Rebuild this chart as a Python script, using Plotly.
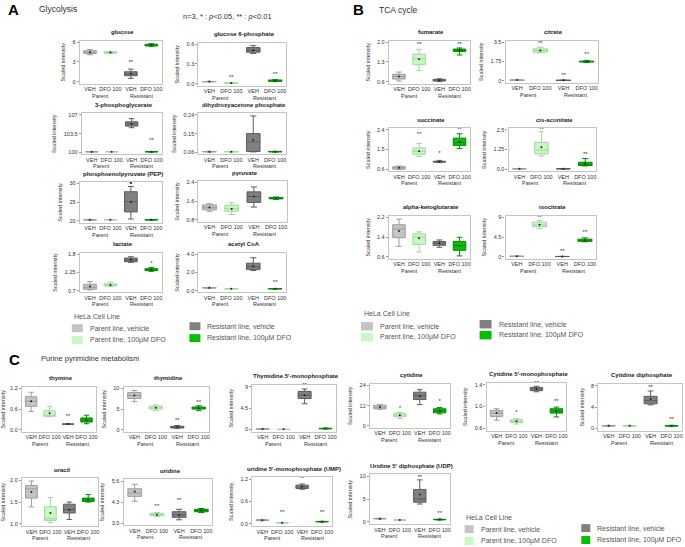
import plotly.graph_objects as go

W, H = 685, 547
FONT = "Liberation Sans, Arial, sans-serif"

CONDITIONS = ["VEH", "DFO 100", "VEH", "DFO 100"]
CELL_LINES = ["Parent", "Resistant"]
FILL = ["#c4c4c4", "#c9f8c6", "#808080", "#00c000"]
EDGE = ["#9c9c9c", "#a3d69f", "#5c5c5c", "#008a00"]
LEGEND_LABELS = ["Parent line, vehicle", "Parent line, 100\u00b5M DFO",
                 "Resistant line, vehicle", "Resistant line, 100\u00b5M DFO"]

# one row per group: lower whisker, q1, median, q3, upper whisker, mean
# --- A: glycolysis
glucose = [(4.1, 4.3, 4.5, 4.7, 4.9, 4.5), (4.25, 4.35, 4.45, 4.55, 4.6, 4.45),
           (0.5, 0.9, 1.15, 1.5, 1.9, 1.2), (5.4, 5.45, 5.6, 5.7, 5.8, 5.6)]
g6p = [(0.025, 0.028, 0.03, 0.032, 0.035, 0.03), (0.003, 0.005, 0.007, 0.009, 0.012, 0.007),
       (0.46, 0.48, 0.51, 0.55, 0.58, 0.51), (0.03, 0.035, 0.045, 0.055, 0.06, 0.045)]
pga3 = [(100.05, 100.08, 100.1, 100.12, 100.15, 100.1), (100.05, 100.08, 100.1, 100.12, 100.15, 100.1),
        (104.6, 104.9, 105.3, 105.7, 106.3, 105.3), (100.05, 100.08, 100.1, 100.12, 100.15, 100.1)]
dhap = [(0.061, 0.062, 0.063, 0.064, 0.065, 0.063), (0.061, 0.062, 0.063, 0.064, 0.065, 0.063),
        (0.062, 0.064, 0.11, 0.15, 0.235, 0.12), (0.061, 0.062, 0.063, 0.064, 0.065, 0.063)]
pep = [(20.2, 20.25, 20.3, 20.35, 20.4, 20.3), (20.2, 20.25, 20.3, 20.35, 20.4, 20.3),
       (20.5, 22.4, 25.2, 27.8, 29.2, 25.0), (20.2, 20.25, 20.3, 20.35, 20.4, 20.3)]
pyruvate = [(1.17, 1.23, 1.32, 1.44, 1.49, 1.33), (1.03, 1.17, 1.28, 1.43, 1.53, 1.27),
            (1.35, 1.55, 1.8, 2.0, 2.21, 1.8), (1.68, 1.7, 1.73, 1.76, 1.78, 1.73)]
lactate = [(0.72, 0.74, 0.8, 0.89, 0.97, 0.82), (0.82, 0.84, 0.87, 0.9, 0.95, 0.87),
           (1.55, 1.57, 1.62, 1.68, 1.72, 1.63), (1.28, 1.3, 1.33, 1.36, 1.4, 1.33)]
acetyl_coa = [(0.25, 0.28, 0.3, 0.32, 0.35, 0.3), (0.17, 0.19, 0.2, 0.21, 0.23, 0.2),
              (2.2, 2.3, 2.6, 3.0, 3.6, 2.7), (0.17, 0.19, 0.2, 0.21, 0.23, 0.2)]
# --- B: TCA cycle
fumarate = [(0.62, 0.69, 0.78, 0.86, 0.94, 0.78), (0.99, 1.2, 1.42, 1.58, 1.75, 1.4),
            (0.6, 0.62, 0.65, 0.68, 0.7, 0.65), (1.55, 1.67, 1.72, 1.76, 1.8, 1.72)]
citrate = [(0.02, 0.04, 0.05, 0.06, 0.08, 0.05), (2.55, 2.6, 2.75, 2.9, 3.05, 2.75),
           (0.01, 0.02, 0.03, 0.04, 0.05, 0.03), (1.65, 1.7, 1.74, 1.78, 1.85, 1.75)]
succinate = [(0.58, 0.6, 0.66, 0.71, 0.74, 0.66), (1.18, 1.28, 1.42, 1.57, 1.78, 1.42),
             (0.9, 0.92, 0.94, 0.96, 1.0, 0.94), (1.54, 1.68, 1.82, 2.02, 2.22, 1.85)]
cis_aconitate = [(0.0, 0.01, 0.02, 0.03, 0.04, 0.02), (0.84, 0.97, 1.21, 1.71, 2.38, 1.4),
                 (0.0, 0.01, 0.02, 0.03, 0.04, 0.02), (0.2, 0.23, 0.3, 0.44, 0.67, 0.35)]
akg = [(1.02, 1.37, 1.73, 1.9, 2.13, 1.65), (0.79, 1.1, 1.4, 1.53, 1.61, 1.35),
       (0.98, 1.06, 1.15, 1.22, 1.28, 1.15), (0.63, 0.86, 1.05, 1.22, 1.39, 1.03)]
isocitrate = [(0.02, 0.05, 0.08, 0.1, 0.12, 0.08), (6.4, 6.9, 7.3, 7.9, 8.3, 7.3),
              (0.01, 0.02, 0.03, 0.04, 0.05, 0.03), (3.4, 3.5, 3.75, 4.0, 4.3, 3.75)]
# --- C: purine pyrimidine metabolism
thymine = [(0.53, 0.68, 0.83, 0.96, 1.09, 0.83), (0.38, 0.39, 0.42, 0.55, 0.68, 0.48),
           (0.15, 0.155, 0.16, 0.165, 0.17, 0.16), (0.17, 0.22, 0.28, 0.34, 0.42, 0.28)]
thymidine = [(6.8, 7.6, 8.3, 9.0, 9.5, 8.3), (4.6, 5.0, 5.3, 5.7, 6.0, 5.3),
             (0.3, 0.4, 0.6, 0.8, 1.0, 0.6), (4.6, 5.0, 5.2, 5.5, 5.8, 5.2)]
tmp = [(0.05, 0.08, 0.1, 0.12, 0.15, 0.1), (0.01, 0.02, 0.03, 0.04, 0.05, 0.03),
       (5.4, 6.5, 7.2, 8.0, 8.5, 7.2), (0.1, 0.15, 0.2, 0.25, 0.3, 0.2)]
cytidine = [(9.7, 10.1, 11.0, 12.2, 12.7, 11.1), (4.3, 5.3, 6.2, 7.4, 7.8, 6.2),
            (12.6, 15.6, 18.0, 20.0, 21.5, 17.5), (7.0, 7.7, 8.8, 10.1, 10.8, 8.9)]
cmp_ = [(0.75, 0.82, 0.88, 0.93, 0.96, 0.88), (0.68, 0.71, 0.73, 0.76, 0.78, 0.73),
        (1.27, 1.29, 1.32, 1.35, 1.37, 1.32), (0.81, 0.88, 0.92, 0.96, 0.99, 0.92)]
cdp = [(0.4, 0.45, 0.5, 0.55, 0.6, 0.5), (0.4, 0.45, 0.5, 0.55, 0.6, 0.5),
       (4.4, 4.6, 5.2, 6.0, 7.0, 5.5), (0.4, 0.45, 0.5, 0.55, 0.6, 0.5)]
uracil = [(1.39, 1.59, 1.8, 1.88, 1.98, 1.73), (1.03, 1.08, 1.12, 1.39, 1.6, 1.25),
          (1.1, 1.25, 1.33, 1.45, 1.5, 1.32), (1.5, 1.51, 1.55, 1.59, 1.67, 1.55)]
uridine = [(4.35, 4.65, 4.85, 5.12, 5.4, 4.95), (3.4, 3.45, 3.52, 3.6, 3.65, 3.52),
           (3.2, 3.35, 3.5, 3.7, 3.85, 3.5), (3.65, 3.7, 3.78, 3.85, 3.9, 3.78)]
ump = [(0.08, 0.09, 0.1, 0.11, 0.12, 0.1), (0.02, 0.025, 0.03, 0.035, 0.04, 0.03),
       (0.93, 0.95, 0.99, 1.04, 1.07, 1.0), (0.05, 0.055, 0.06, 0.065, 0.07, 0.06)]
udp = [(0.6, 0.65, 0.7, 0.75, 0.8, 0.7), (0.3, 0.35, 0.4, 0.45, 0.5, 0.4),
       (3.9, 4.3, 5.0, 7.1, 9.2, 6.0), (0.4, 0.45, 0.5, 0.55, 0.6, 0.5)]

# significance marks (text, height) per group
sig_glucose = [None, None, ("**", 2.9), ("**", 6.4)]
sig_g6p = [None, ("**", 0.09), None, ("**", 0.145)]
sig_pga3 = [None, None, None, ("**", 102.2)]
sig_lactate = [None, None, None, ("*", 1.52)]
sig_acetyl_coa = [None, None, None, ("**", 0.85)]
sig_fumarate = [None, ("**", 1.93), None, ("**", 1.93)]
sig_citrate = [None, ("**", 3.4), ("**", 0.5), ("**", 2.35)]
sig_succinate = [None, ("**", 2.2), ("*", 1.3), ("**", 2.42)]
sig_cis_aconitate = [None, ("**", 2.5), None, ("**", 0.93)]
sig_isocitrate = [None, ("**", 8.9), ("**", 1.25), ("**", 5.5)]
sig_thymine = [None, None, ("**", 0.37), None]
sig_thymidine = [None, None, ("**", 2.2), ("**", 6.7)]
sig_tmp = [None, None, ("**", 9.2), None]
sig_cytidine = [None, ("*", 10.5), None, ("*", 14.5)]
sig_cmp = [None, ("*", 0.89), ("**", 1.43), ("**", 1.1)]
sig_cdp = [None, None, ("**", 7.7), ("**", 1.7)]
sig_uridine = [None, ("**", 4.0), ("**", 4.4), None]
sig_ump = [None, ("**", 0.3), ("**", 1.21), ("**", 0.3)]
sig_udp = [None, None, ("**", 9.7), ("**", 1.8)]
pep_outlier = 30.2

NONE4 = [None] * 4

# title, stats, significance, y tick labels, frame box in px (x0, x1, y0, y1)
charts = [
    ("glucose", glucose, sig_glucose, ["0", "3", "6"], (80, 162, 39, 82)),
    ("glucose 6-phosphate", g6p, sig_g6p, ["0.0", "0.3", "0.6"], (199, 287, 41, 84)),
    ("3-phosphoglycerate", pga3, sig_pga3, ["100", "103.5", "107"], (82, 162, 112, 153)),
    ("dihydroxyacetone phosphate", dhap, NONE4, ["0.06", "0.15", "0.24"], (199, 287, 112, 153)),
    ("phosphoenolpyruvate (PEP)", pep, NONE4, ["20", "25", "30"], (80, 162, 181, 222)),
    ("pyruvate", pyruvate, NONE4, ["0.8", "1.6", "2.4"], (199, 288, 180, 221)),
    ("lactate", lactate, sig_lactate, ["0.7", "1.25", "1.8"], (80, 162, 252, 292)),
    ("acetyl CoA", acetyl_coa, sig_acetyl_coa, ["0.0", "2.0", "4.0"], (199, 287, 252, 292)),
    ("fumarate", fumarate, sig_fumarate, ["0.6", "1.3", "2.0"], (390, 471, 39, 82)),
    ("citrate", citrate, sig_citrate, ["0", "1.75", "3.5"], (507, 600, 39, 81)),
    ("succinate", succinate, sig_succinate, ["0.6", "1.5", "2.4"], (390, 471, 127, 170)),
    ("cis-aconitate", cis_aconitate, sig_cis_aconitate, ["0.0", "1.25", "2.5"], (510, 598, 127, 170)),
    ("alpha-ketoglutarate", akg, NONE4, ["0.6", "1.4", "2.2"], (390, 471, 215, 258)),
    ("isocitrate", isocitrate, sig_isocitrate, ["0", "4.5", "9"], (507, 598, 215, 258)),
    ("thymine", thymine, sig_thymine, ["0.0", "0.6", "1.2"], (22, 96, 387, 432)),
    ("thymidine", thymidine, sig_thymidine, ["0", "5", "10"], (124, 210, 387, 432)),
    ("Thymidine 5'-monophosphate", tmp, sig_tmp, ["0", "4.5", "9"], (253, 337, 385, 432)),
    ("cytidine", cytidine, sig_cytidine, ["0", "12", "24"], (371, 451, 384, 428)),
    ("Cytidine 5'-monophosphate", cmp_, sig_cmp, ["0.6", "1.0", "1.4"], (488, 568, 383, 431)),
    ("Cytidine diphosphate", cdp, sig_cdp, ["0", "4", "8"], (600, 684, 384, 431)),
    ("uracil", uracil, NONE4, ["1.0", "1.5", "2.0"], (22, 98, 479, 527)),
    ("uridine", uridine, sig_uridine, ["3.0", "4.3", "5.6"], (124, 213, 480, 526)),
    ("uridine 5'-monophosphate (UMP)", ump, sig_ump, ["0.0", "0.6", "1.2"], (253, 333, 478, 527)),
    ("Uridine 5' diphosphate (UDP)", udp, sig_udp, ["0", "5", "10"], (371, 451, 475, 525)),
]


def px(x):
    return x / W


def py(y):
    return 1 - y / H


fig = go.Figure()
annotations = []
shapes = []
POS = [0, 1, 2, 3]

for i, (title, stats, sig, ticks, box) in enumerate(charts, start=1):
    sfx = "" if i == 1 else str(i)
    xa, ya = "x" + sfx, "y" + sfx
    x0, x1, y0, y1 = box
    for g in range(4):
        lo, q1, med, q3, hi, mean = stats[g]
        fig.add_trace(go.Box(
            x=[POS[g]], lowerfence=[lo], q1=[q1], median=[med], q3=[q3], upperfence=[hi],
            fillcolor=FILL[g], line=dict(color=EDGE[g], width=1), width=0.62,
            whiskerwidth=0.45, boxpoints=False, showlegend=False,
            xaxis=xa, yaxis=ya, hoverinfo="skip"))
        fig.add_trace(go.Scatter(
            x=[POS[g]], y=[mean], mode="markers", marker=dict(size=2, color="#222"),
            showlegend=False, xaxis=xa, yaxis=ya, hoverinfo="skip"))
        if sig[g]:
            fig.add_trace(go.Scatter(
                x=[POS[g]], y=[sig[g][1]], mode="text", text=[sig[g][0]],
                textfont=dict(size=6, color="#333", family=FONT), cliponaxis=False,
                showlegend=False, xaxis=xa, yaxis=ya, hoverinfo="skip"))
    if title.startswith("phosphoenol"):
        fig.add_trace(go.Scatter(
            x=[POS[2]], y=[pep_outlier], mode="markers",
            marker=dict(size=2.5, color="#333"), showlegend=False,
            xaxis=xa, yaxis=ya, hoverinfo="skip"))

    vals = [float(t) for t in ticks]
    span = vals[-1] - vals[0]
    fig.layout["xaxis" + sfx] = dict(
        domain=[px(x0), px(x1)], anchor=ya, range=[-0.5, 3.5],
        tickvals=POS, ticktext=CONDITIONS, ticks="", tickangle=0,
        showline=True, mirror=True, linecolor="#c4c4c4", linewidth=1.2,
        tickfont=dict(size=5.5, color="#333"), showgrid=False, zeroline=False)
    fig.layout["yaxis" + sfx] = dict(
        domain=[py(y1), py(y0)], anchor=xa, range=[vals[0] - 0.05 * span, vals[-1] + 0.04 * span],
        tickvals=vals, ticktext=ticks, ticks="outside", ticklen=2, tickcolor="#999",
        tickfont=dict(size=5.5, color="#333"), showline=True, mirror=True,
        linecolor="#c4c4c4", linewidth=1.2, showgrid=False, zeroline=False,
        title=dict(text="Scaled intensity", font=dict(size=5.5, color="#333"), standoff=6))
    for k, name in enumerate(CELL_LINES):
        annotations.append(dict(
            text=name, x=0.5 + 2 * k, y=0, xref=xa, yref=ya + " domain",
            showarrow=False, xanchor="center", yanchor="middle", yshift=-12,
            font=dict(size=5.5, color="#333")))
    annotations.append(dict(
        text="<b>" + title + "</b>", x=px((x0 + x1) / 2 + 2), y=py(y0 - 8.5),
        xref="paper", yref="paper", showarrow=False, xanchor="center", yanchor="middle",
        font=dict(size=6, color="#222")))


def text(s, x, y, size, anchor="left", color="#333"):
    annotations.append(dict(text=s, x=px(x), y=py(y), xref="paper", yref="paper",
                            showarrow=False, xanchor=anchor, yanchor="middle",
                            font=dict(size=size, color=color)))


# panel headers
text("<b>A</b>", 6, 8, 15, color="#000")
text("Glycolysis", 37, 7, 8.5)
text("n=3, * : <i>p</i>&lt;0.05, ** : <i>p</i>&lt;0.01", 182, 15, 7.5)
text("<b>B</b>", 352, 8, 15, color="#000")
text("TCA cycle", 378, 8, 8.5)
text("<b>C</b>", 7, 359, 15, color="#000")
text("Purine pyrimidine metabolism", 39, 358, 7.5)


def legend(tx, ty, left_x, right_x, rows_left, rows_right, sw, sh, size):
    text("HeLa Cell Line", tx, ty, size, color="#555")
    for g in range(4):
        col_x = left_x if g < 2 else right_x
        ry = (rows_left if g < 2 else rows_right)[g % 2]
        shapes.append(dict(type="rect", xref="paper", yref="paper",
                           x0=px(col_x), x1=px(col_x + sw), y0=py(ry + sh / 2), y1=py(ry - sh / 2),
                           fillcolor=FILL[g], line=dict(width=0)))
        text(LEGEND_LABELS[g], col_x + sw + 5, ry, size, color="#555")


legend(72, 316, 72, 190, (328, 340), (326, 338), 11, 8, 7)
legend(363, 313, 362, 481, (326, 337), (324, 335), 12, 8.5, 7)
legend(465, 518, 466, 583, (530, 542), (529, 541), 9, 8, 7)

fig.update_layout(
    width=W, height=H, margin=dict(l=0, r=0, t=0, b=0),
    paper_bgcolor="white", plot_bgcolor="white", boxmode="overlay",
    font=dict(family=FONT, color="#333"), hovermode=False,
    annotations=annotations, shapes=shapes, showlegend=False)

# the page body has a default 8px margin; drop it so the figure fills the window
fig.write_html("out.html", config={"displayModeBar": False},
               post_script="document.body.style.margin='0';")
